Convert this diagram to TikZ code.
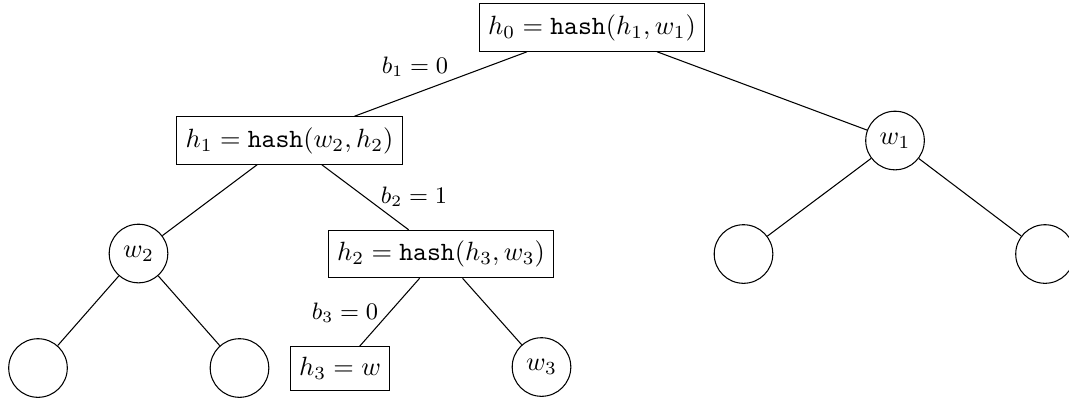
\documentclass[tikz,border=0pt]{standalone}
\usepackage{amsmath}
\begin{document}
\begin{tikzpicture}[x=0.3788pt,y=-0.3788pt,
  hashbox/.style={draw,rectangle,inner xsep=3.4pt,inner ysep=4pt},
  leaf/.style={draw,circle,minimum size=22.2pt,inner sep=0pt},
  bitlabel/.style={font=\small,inner sep=1pt}]
\useasboundingbox (0,0) rectangle (1069,403);

% hash nodes along the authentication path
\node[hashbox] (h0) at (592,27.5) {$h_0 = \texttt{hash}(h_1, w_1)$};
\node[hashbox] (h1) at (289.5,140.5) {$h_1 = \texttt{hash}(w_2, h_2)$};
\node[hashbox] (h2) at (441,254) {$h_2 = \texttt{hash}(h_3, w_3)$};
\node[hashbox] (h3) at (340,368.5) {$h_3 = w$};

% sibling and other tree nodes
\node[leaf] (w1) at (895,140.5) {$w_1$};
\node[leaf] (w2) at (138.5,253.5) {$w_2$};
\node[leaf] (w3) at (541.5,367) {$w_3$};
\node[leaf] (w1l) at (743.5,254) {};
\node[leaf] (w1r) at (1045,254) {};
\node[leaf] (w2l) at (38,368) {};
\node[leaf] (w2r) at (239.5,368) {};

% tree edges
\draw (h0) -- (h1);
\draw (h0) -- (w1);
\draw (h1) -- (w2);
\draw (h1) -- (h2);
\draw (h2) -- (h3);
\draw (h2) -- (w3);
\draw (w1) -- (w1l);
\draw (w1) -- (w1r);
\draw (w2) -- (w2l);
\draw (w2) -- (w2r);

% path bits
\node[bitlabel] (b1) at (415,67) {$b_1 = 0$};
\node[bitlabel] (b2) at (414,197) {$b_2 = 1$};
\node[bitlabel] (b3) at (345,312.5) {$b_3 = 0$};
\end{tikzpicture}
\end{document}
